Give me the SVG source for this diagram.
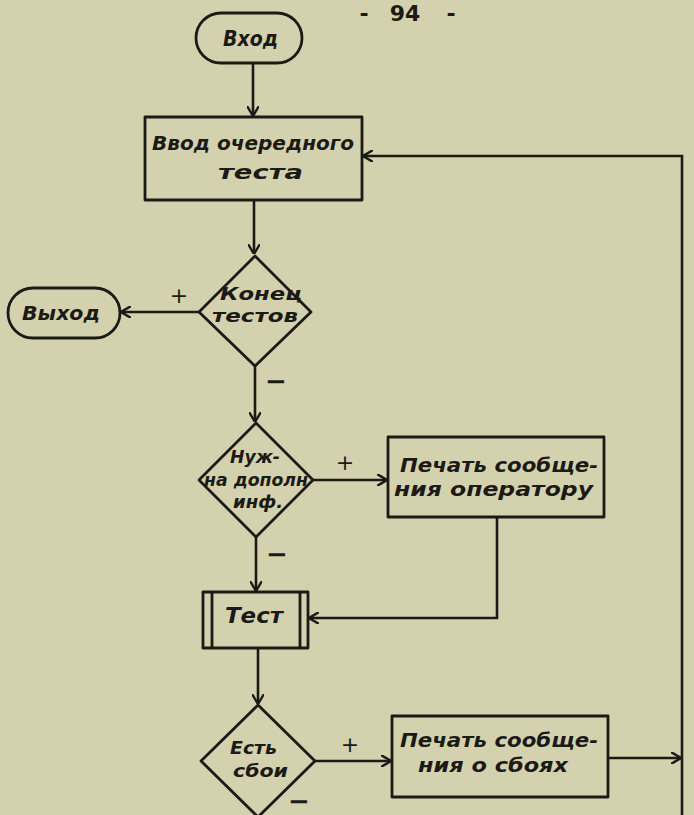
<svg xmlns="http://www.w3.org/2000/svg" width="694" height="815" viewBox="0 0 694 815">
  <defs>
    <marker id="arr" viewBox="0 0 10 12" refX="10" refY="6" markerWidth="10" markerHeight="12" markerUnits="userSpaceOnUse" orient="auto">
      <path d="M0,0 L10,6 L0,12" fill="none" stroke="#1b1a15" stroke-width="2.4"/>
    </marker>
  </defs>
  <style>
    .shape { fill: none; stroke: #1b1a15; stroke-width: 2.8; stroke-linejoin: round; }
    .wire { fill: none; stroke: #1b1a15; stroke-width: 2.6; }
    .t { font-family: "DejaVu Sans", "Liberation Sans", sans-serif; font-style: italic; font-weight: bold; fill: #1b1a15; }
    .lbl { font-family: "DejaVu Sans", "Liberation Sans", sans-serif; fill: #1b1a15; text-anchor: middle; }
    .pg { font-family: "DejaVu Sans", "Liberation Sans", sans-serif; font-weight: bold; fill: #1b1a15; text-anchor: middle; }
  </style>

  <!-- paper -->
  <rect width="694" height="815" fill="#d4d2ae"/>

  <!-- page number -->
  <text class="pg" x="364" y="21" font-size="22">-</text>
  <text class="pg" x="405" y="21" font-size="22">94</text>
  <text class="pg" x="451" y="21" font-size="22">-</text>

  <!-- connectors -->
  <g id="connectors">
    <path class="wire" d="M253,63 V116" marker-end="url(#arr)"/>
    <path class="wire" d="M254,200 V254" marker-end="url(#arr)"/>
    <path class="wire" d="M199,312 H121" marker-end="url(#arr)"/>
    <path class="wire" d="M255,366 V422" marker-end="url(#arr)"/>
    <path class="wire" d="M313,480 H387" marker-end="url(#arr)"/>
    <path class="wire" d="M256,537 V591" marker-end="url(#arr)"/>
    <path class="wire" d="M497,517 V618 H309" marker-end="url(#arr)"/>
    <path class="wire" d="M258,648 V704" marker-end="url(#arr)"/>
    <path class="wire" d="M315,761 H391" marker-end="url(#arr)"/>
    <path class="wire" d="M608,758 H681" marker-end="url(#arr)"/>
    <path class="wire" d="M682,815 V156 H363" marker-end="url(#arr)"/>
    <!-- branch signs -->
    <text class="lbl" x="179" y="303" font-size="22">+</text>
    <text class="lbl" x="276" y="390" font-size="26" font-weight="bold">−</text>
    <text class="lbl" x="345" y="470" font-size="22">+</text>
    <text class="lbl" x="277" y="563" font-size="26" font-weight="bold">−</text>
    <text class="lbl" x="350" y="752" font-size="22">+</text>
    <text class="lbl" x="299" y="810" font-size="26" font-weight="bold">−</text>
  </g>

  <g id="start">
    <rect class="shape" x="196" y="13" width="106" height="50" rx="25"/>
    <text class="t" x="223" y="46" font-size="21" textLength="55" lengthAdjust="spacingAndGlyphs">Вход</text>
  </g>

  <g id="input-test">
    <rect class="shape" x="145" y="117" width="217" height="83"/>
    <text class="t" x="152" y="150" font-size="20" textLength="202" lengthAdjust="spacingAndGlyphs">Ввод очередного</text>
    <text class="t" x="218" y="179" font-size="20" textLength="85" lengthAdjust="spacingAndGlyphs">теста</text>
  </g>

  <g id="end-of-tests">
    <polygon class="shape" points="255,256 311,312 255,366 199,312"/>
    <text class="t" x="220" y="300" font-size="18" textLength="82" lengthAdjust="spacingAndGlyphs">Конец</text>
    <text class="t" x="212" y="322" font-size="18" textLength="86" lengthAdjust="spacingAndGlyphs">тестов</text>
  </g>

  <g id="exit">
    <rect class="shape" x="8" y="288" width="112" height="50" rx="25"/>
    <text class="t" x="22" y="320" font-size="19" textLength="78" lengthAdjust="spacingAndGlyphs">Выход</text>
  </g>

  <g id="need-info">
    <polygon class="shape" points="256,423 313,480 256,537 199,480"/>
    <text class="t" x="230" y="463" font-size="17" textLength="50" lengthAdjust="spacingAndGlyphs">Нуж-</text>
    <text class="t" x="204" y="486" font-size="17" textLength="104" lengthAdjust="spacingAndGlyphs">на дополн</text>
    <text class="t" x="233" y="508" font-size="17" textLength="50" lengthAdjust="spacingAndGlyphs">инф.</text>
  </g>

  <g id="print-operator">
    <rect class="shape" x="388" y="437" width="216" height="80"/>
    <text class="t" x="400" y="472" font-size="20" textLength="198" lengthAdjust="spacingAndGlyphs">Печать сообще-</text>
    <text class="t" x="394" y="496" font-size="20" textLength="199" lengthAdjust="spacingAndGlyphs">ния оператору</text>
  </g>

  <g id="test">
    <rect class="shape" x="203" y="592" width="105" height="56"/>
    <line class="shape" x1="212" y1="592" x2="212" y2="648"/>
    <line class="shape" x1="300" y1="592" x2="300" y2="648"/>
    <text class="t" x="225" y="623" font-size="21" textLength="58" lengthAdjust="spacingAndGlyphs">Тест</text>
  </g>

  <g id="has-failures">
    <polygon class="shape" points="258,705 315,761 258,817 201,761"/>
    <text class="t" x="230" y="754" font-size="18" textLength="47" lengthAdjust="spacingAndGlyphs">Есть</text>
    <text class="t" x="233" y="777" font-size="18" textLength="55" lengthAdjust="spacingAndGlyphs">сбои</text>
  </g>

  <g id="print-failures">
    <rect class="shape" x="392" y="716" width="216" height="81"/>
    <text class="t" x="400" y="747" font-size="20" textLength="198" lengthAdjust="spacingAndGlyphs">Печать сообще-</text>
    <text class="t" x="418" y="772" font-size="20" textLength="150" lengthAdjust="spacingAndGlyphs">ния о сбоях</text>
  </g>
</svg>
